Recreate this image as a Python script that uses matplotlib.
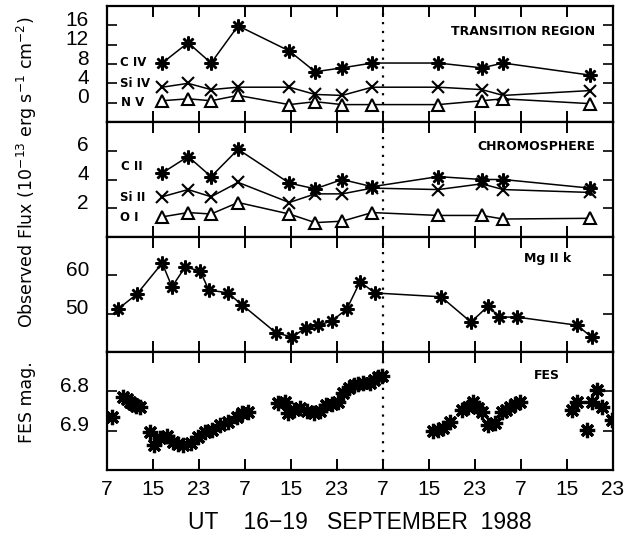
import matplotlib
matplotlib.use("Agg")
import matplotlib.pyplot as plt
from matplotlib.transforms import ScaledTranslation

plt.rcParams['font.family'] = ['Liberation Sans Narrow', 'Liberation Sans', 'DejaVu Sans']

# ---------------- data (x = hours since 16 Sep 1988 00 UT) ----------------
x_ticks = [7, 15, 23, 31, 39, 47, 55, 63, 71, 79, 87, 95]
x_labels = ['7', '15', '23', '7', '15', '23', '7', '15', '23', '7', '15', '23']
gap_hour = 55

uv_hours = [16.6, 21.1, 25.1, 29.8, 38.7, 43.2, 47.9, 53.1, 64.6, 72.2, 75.9, 91.0]
c_iv = [8.2, 12.4, 8.2, 15.9, 10.7, 6.4, 7.2, 8.2, 8.2, 7.2, 8.2, 5.7]
si_iv = [3.2, 4.0, 2.7, 3.2, 3.2, 1.7, 1.5, 3.2, 3.2, 2.7, 1.5, 2.5]
n_v = [0.4, 0.8, 0.4, 1.5, -0.4, 0.2, -0.4, -0.4, -0.4, 0.4, 0.8, -0.2]

c_ii = [4.45, 5.6, 4.2, 6.1, 3.75, 3.35, 4.0, 3.5, 4.2, 4.0, 4.0, 3.4]
si_ii = [2.8, 3.3, 2.8, 3.8, 2.4, 3.0, 3.0, 3.4, 3.3, 3.7, 3.3, 3.1]
o_i = [1.4, 1.7, 1.6, 2.4, 1.6, 1.0, 1.1, 1.7, 1.5, 1.5, 1.25, 1.3]

mg_hours = [8.9, 12.2, 16.6, 18.3, 20.6, 23.2, 24.7, 28.0, 30.5, 36.4, 39.2, 41.6,
            43.7, 46.1, 48.7, 51.0, 53.6, 65.1, 70.3, 73.3, 75.2, 78.3, 88.7, 91.3]
mg_k = [51.2, 55.1, 63.2, 57.0, 62.2, 61.1, 56.2, 55.4, 52.3, 45.0, 43.9, 46.3,
        47.0, 48.1, 51.2, 58.3, 55.4, 54.4, 47.8, 52.0, 49.1, 49.1, 47.0, 43.9]

fes_hours = [7.87, 9.78, 10.48, 11.0, 11.52, 12.04, 12.74, 14.48, 15.17, 16.22, 17.43,
             18.48, 19.35, 20.22, 21.61, 22.83, 24.04, 25.26, 26.65, 28.04, 29.61, 30.48,
             31.52, 36.74, 37.96, 38.48, 39.52, 40.57, 41.78, 43.0, 44.04, 45.09, 46.13,
             47.17, 48.04, 49.09, 49.96, 50.65, 51.52, 52.74, 53.43, 54.13, 54.83,
             63.70, 64.57, 65.43, 66.65, 68.74, 69.78, 70.65, 71.52, 72.22, 73.26,
             74.48, 75.70, 76.39, 77.09, 77.96, 78.83, 87.87, 88.74, 90.48, 91.35,
             92.22, 93.09, 94.83]
fes_mag = [6.865, 6.815, 6.82, 6.827, 6.832, 6.837, 6.84, 6.904, 6.937, 6.919, 6.914,
           6.929, 6.934, 6.937, 6.932, 6.916, 6.904, 6.898, 6.886, 6.878, 6.865, 6.855,
           6.853, 6.83, 6.827, 6.855, 6.848, 6.842, 6.85, 6.855, 6.85, 6.835, 6.832,
           6.827, 6.804, 6.792, 6.784, 6.781, 6.779, 6.779, 6.771, 6.764, 6.761,
           6.901, 6.898, 6.893, 6.878, 6.848, 6.84, 6.827, 6.842, 6.853, 6.886,
           6.881, 6.853, 6.848, 6.84, 6.832, 6.827, 6.848, 6.827, 6.898, 6.827,
           6.797, 6.84, 6.873]

# ---------------- figure ----------------
W, H = 632, 539
fig = plt.figure(figsize=(W / 100, H / 100), dpi=100)
left_px, right_px = 107, 613
bounds = [6, 122, 237, 352, 470]
axes = []
for i in range(4):
    top, bot = bounds[i], bounds[i + 1]
    ax = fig.add_axes([left_px / W, 1 - bot / H, (right_px - left_px) / W, (bot - top) / H])
    axes.append(ax)

STAR = (8, 2, 0)
line_kw = dict(color='black', lw=1.1)
star_kw = dict(marker=STAR, ms=10, mew=1.8, mec='black', mfc='black')
x_kw = dict(marker='x', ms=9, mew=1.5, mec='black')
tri_kw = dict(marker='^', ms=8, mew=1.5, mec='black', mfc='white')

lab_font = dict(fontsize=8.5, fontweight='bold', family=['DejaVu Sans'])
up = ScaledTranslation(0, 5 / 72, fig.dpi_scale_trans)

for i, ax in enumerate(axes):
    ax.set_xlim(7, 95)
    ax.set_xticks(x_ticks)
    ax.tick_params(axis='x', which='major', direction='in', length=8, width=1.4,
                   top=True, bottom=True, labelbottom=(i == 3), labelsize=15, pad=7)
    ax.tick_params(axis='y', which='major', direction='in', length=7, width=1.2,
                   left=True, right=True, labelsize=15, pad=13)
    for s in ax.spines.values():
        s.set_linewidth(1.6)
    ax.axvline(gap_hour, color='black', lw=1.6, ls=(0, (1, 3)))

# Panel 1: transition region
ax = axes[0]
ax.plot(uv_hours, c_iv, **line_kw, **star_kw)
ax.plot(uv_hours, si_iv, **line_kw, **x_kw)
ax.plot(uv_hours, n_v, **line_kw, **tri_kw)
ax.set_ylim(-4, 20)
ax.set_yticks([0, 4, 8, 12, 16])
ax.set_yticklabels(['0', '4', '8', '12', '16'])
ax.text(9.2, 8.3, 'C IV', ha='left', va='center', **lab_font)
ax.text(9.2, 4.0, 'Si IV', ha='left', va='center', **lab_font)
ax.text(9.4, 0.0, 'N V', ha='left', va='center', **lab_font)
ax.text(0.964, 0.776, 'TRANSITION REGION', transform=ax.transAxes, ha='right', va='center',
        fontsize=9, fontweight='bold', family=['DejaVu Sans'])

# Panel 2: chromosphere
ax = axes[1]
ax.plot(uv_hours, c_ii, **line_kw, **star_kw)
ax.plot(uv_hours, si_ii, **line_kw, **x_kw)
ax.plot(uv_hours, o_i, **line_kw, **tri_kw)
ax.set_ylim(0, 8)
ax.set_yticks([2, 4, 6])
ax.set_yticklabels(['2', '4', '6'])
ax.text(9.4, 4.87, 'C II', ha='left', va='center', **lab_font)
ax.text(9.2, 2.78, 'Si II', ha='left', va='center', **lab_font)
ax.text(9.2, 1.39, 'O I', ha='left', va='center', **lab_font)
ax.text(0.964, 0.783, 'CHROMOSPHERE', transform=ax.transAxes, ha='right', va='center',
        fontsize=9, fontweight='bold', family=['DejaVu Sans'])

# Panel 3: Mg II k
ax = axes[2]
ax.plot(mg_hours, mg_k, **line_kw, **star_kw)
ax.set_ylim(40, 70)
ax.set_yticks([50, 60])
ax.set_yticklabels(['50', '60'])
ax.text(0.87, 0.817, 'Mg II k', transform=ax.transAxes, ha='center', va='center',
        fontsize=9, fontweight='bold', family=['DejaVu Sans'])

# Panel 4: FES
ax = axes[3]
ax.plot(fes_hours, fes_mag, ls='none', marker=STAR, ms=11, mew=2.3, mec='black')
ax.set_ylim(7.0, 6.7)
ax.set_yticks([6.8, 6.9])
ax.set_yticklabels(['6.8', '6.9'])
ax.set_xticklabels(x_labels)
ax.text(0.87, 0.805, 'FES', transform=ax.transAxes, ha='center', va='center',
        fontsize=9, fontweight='bold', family=['DejaVu Sans'])
ax.set_xlabel('UT    16\u221219   SEPTEMBER  1988', fontsize=16.5, labelpad=9)

for ax in axes:
    for lab in ax.get_yticklabels():
        lab.set_transform(lab.get_transform() + up)

fig.text(0.043, 1 - 172 / H, r'Observed Flux (10$^{-13}$ erg s$^{-1}$ cm$^{-2}$)',
         rotation=90, ha='center', va='center', fontsize=12.5, family=['DejaVu Sans'])
fig.text(0.043, 1 - 402 / H, 'FES mag.', rotation=90, ha='center', va='center',
         fontsize=12.5, family=['DejaVu Sans'])

fig.savefig('out.png', dpi=100, facecolor='white')
